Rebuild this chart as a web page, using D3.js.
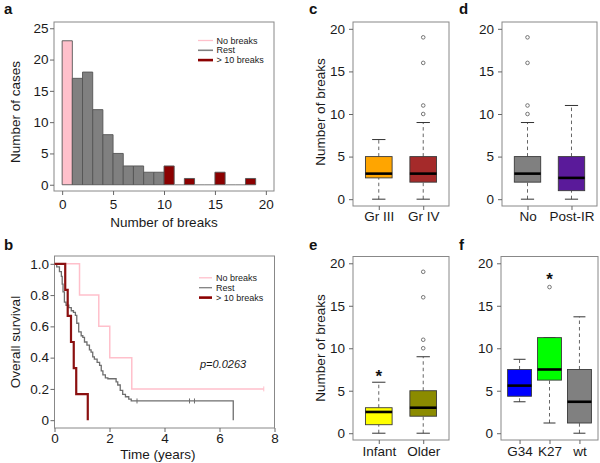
<!DOCTYPE html>
<html><head><meta charset="utf-8">
<script src="https://cdn.jsdelivr.net/npm/d3@7"></script>
<style>
body{margin:0;background:#fff;}
svg, svg text{font-family:"Liberation Sans",Arial,Helvetica,sans-serif;}
</style></head>
<body><svg id="c" width="600" height="463"></svg>
<script>
// ---------- DATA ----------
const histBinStarts = [0,1,2,3,4,5,6,7,8,9,10,11,12,13,14,15,16,17,18];
const histCounts    = [23,17,18,12,8,5,3,3,2,2,3,0,1,0,0,2,0,0,1];
const histTicksX = [0,5,10,15,20];
const histTicksY = [0,5,10,15,20,25];
const groupNames = ["No breaks","Rest","> 10 breaks"];
const groupColors = ["#ffc0cb","#808080","#8b0000"];

const kmNoTimes = [0.91,1.61,2.01,2.81,7.61];
const kmNoSurv  = [0.8,0.6,0.4,0.2,0.2];
const kmNoCensor = [7.61];
const kmRestTimes = [0.08,0.18,0.25,0.28,0.31,0.36,0.42,0.52,0.61,0.69,0.76,0.81,0.88,0.97,1.03,1.09,1.18,1.27,1.33,1.39,1.45,1.55,1.64,1.70,1.76,1.85,1.94,2.24,2.30,2.39,2.48,2.58,2.70,2.79,6.50];
const kmRestSurv  = [0.98,0.95,0.92,0.87,0.82,0.755,0.735,0.72,0.70,0.69,0.67,0.62,0.565,0.54,0.53,0.50,0.48,0.45,0.435,0.405,0.39,0.37,0.35,0.315,0.29,0.27,0.265,0.245,0.225,0.19,0.165,0.15,0.135,0.123,0];
const kmRestCensor = [3.0,4.91,5.09];
const kmHighTimes = [0.39,0.48,0.60,0.70,0.79,1.21];
const kmHighSurv  = [0.833,0.667,0.5,0.333,0.167,0];
const kmTicksX = [0,2,4,6,8];
const kmTicksY = [0,0.2,0.4,0.6,0.8,1.0];
const pValueText = "p=0.0263";

const boxTicksY = [0,5,10,15,20];
// stats: [whiskerLow, q1, median, q3, whiskerHigh]
const gradeLabels = ["Gr III","Gr IV"];
const gradeStats = [[0,2.5,3,5,7],[0,2,3,5,9]];
const gradeOutliers = [[],[10,11,16,19]];
const gradeColors = ["#ffa500","#a52a2a"];

const irLabels = ["No","Post-IR"];
const irStats = [[0,2,3,5,9],[0,1,2.5,5,11]];
const irOutliers = [[10,11,16,19],[]];
const irColors = ["#808080","#5a1a9a"];

const ageLabels = ["Infant","Older"];
const ageStats = [[0,1,2.5,3,6],[0,2,3,5,9]];
const ageOutliers = [[],[10,11,16,19]];
const ageColors = ["#ffff00","#8b8b00"];
const ageStar = [7.45, null];

const mutLabels = ["G34","K27","wt"];
const mutStats = [[3.7,4.35,5.6,7.5,8.7],[1.2,6.25,7.5,11.25,11.25],[0,1.2,3.7,7.5,13.7]];
const mutOutliers = [[],[17.2],[]];
const mutColors = ["#0000ff","#00ff00","#808080"];
const mutStar = [null, 18.8, null];

// ---------- DRAW ----------
const FONT = '"Liberation Sans",Arial,Helvetica,sans-serif';
const svg = d3.select("#c");
const FRAME = "#888", TICKC = "#666", TXT = "#1a1a1a";
const TF = 13.5, LF = 13.5;

function frame(x0,y0,x1,y1){
  svg.append("rect").attr("x",x0).attr("y",y0).attr("width",x1-x0).attr("height",y1-y0)
    .attr("fill","none").attr("stroke",FRAME).attr("stroke-width",1);
}
function styleAxis(g){
  g.attr("font-family",FONT).attr("font-size",TF);
  g.select(".domain").remove();
  g.selectAll(".tick line").attr("stroke",TICKC);
  g.selectAll(".tick text").attr("fill",TXT).style("font-size",TF+"px").style("font-family",FONT);
}
function letter(t,x,y){
  svg.append("text").attr("x",x).attr("y",y).text(t).style("font-size","15px").style("font-weight","bold").attr("fill","#111");
}
function ytitle(t,x,y){
  svg.append("text").attr("transform",`translate(${x},${y}) rotate(-90)`).attr("text-anchor","middle")
    .style("font-size",LF+"px").attr("fill",TXT).text(t);
}
function xtitle(t,x,y){
  svg.append("text").attr("x",x).attr("y",y).attr("text-anchor","middle").style("font-size",LF+"px").attr("fill",TXT).text(t);
}
function legend(x0,x1,tx,ys,widths){
  groupNames.forEach((n,i)=>{
    svg.append("line").attr("x1",x0).attr("x2",x1).attr("y1",ys[i]).attr("y2",ys[i])
      .attr("stroke",groupColors[i]).attr("stroke-width",widths[i]);
    svg.append("text").attr("x",tx).attr("y",ys[i]).attr("dy","0.35em").style("font-size","9px").attr("fill",TXT).text(n);
  });
}

// Panel a: histogram
(function(){
  const X0=54,X1=274,Y0=22,Y1=191;
  const x = d3.scaleLinear().domain([-0.8,20.8]).range([X0,X1]);
  const y = d3.scaleLinear().domain([-1,26]).range([Y1,Y0]);
  frame(X0,Y0,X1,Y1);
  const col = s => s===0 ? groupColors[0] : (s>=10 ? groupColors[2] : groupColors[1]);
  svg.append("g").selectAll("path").data(histBinStarts).join("path")
    .attr("d",(s,i)=>`M${x(s)},${y(0)}L${x(s)},${y(histCounts[i])}L${x(s+1)},${y(histCounts[i])}L${x(s+1)},${y(0)}Z`)
    .attr("fill",s=>col(s)).attr("stroke",(s,i)=>histCounts[i]===0?"#999":"#555").attr("stroke-width",0.9);
  const ax = svg.append("g").attr("transform",`translate(0,${Y1})`)
    .call(d3.axisBottom(x).tickValues(histTicksX).tickSize(4).tickPadding(4));
  styleAxis(ax);
  const ay = svg.append("g").attr("transform",`translate(${X0},0)`)
    .call(d3.axisLeft(y).tickValues(histTicksY).tickSize(4).tickPadding(1.5));
  styleAxis(ay);
  ytitle("Number of cases",20,112);
  xtitle("Number of breaks",164,227);
  legend(198,213,216.5,[40.5,50.3,60.1],[1.3,1.6,2.6]);
  letter("a",4,14);
})();

// Panel b: Kaplan-Meier
(function(){
  const X0=54.5,X1=274.5,Y0=256,Y1=428;
  const x = d3.scaleLinear().domain([0,8]).range([X0,X1]);
  const y = d3.scaleLinear().domain([-0.05,1.05]).range([Y1,Y0]);
  frame(X0,Y0,X1,Y1);
  const line = d3.line().x(d=>x(d[0])).y(d=>y(d[1])).curve(d3.curveStepAfter);
  function km(times,surv,color,w,censor){
    const pts = [[0,1]].concat(times.map((t,i)=>[t,surv[i]]));
    svg.append("path").attr("d",line(pts)).attr("fill","none").attr("stroke",color).attr("stroke-width",w);
    (censor||[]).forEach(t=>{
      let s=1; times.forEach((tt,i)=>{ if(tt<=t) s=surv[i]; });
      svg.append("line").attr("x1",x(t)).attr("x2",x(t)).attr("y1",y(s)-2.5).attr("y2",y(s)+2.5)
        .attr("stroke",color).attr("stroke-width",1);
    });
  }
  km(kmNoTimes,kmNoSurv,groupColors[0],1.5,kmNoCensor);
  km(kmRestTimes,kmRestSurv,"#6e6e6e",1.3,kmRestCensor);
  km(kmHighTimes,kmHighSurv,"#8b1010",2.2,[]);
  const ax = svg.append("g").attr("transform",`translate(0,${Y1})`)
    .call(d3.axisBottom(x).tickValues(kmTicksX).tickSize(4).tickPadding(1));
  styleAxis(ax);
  const ay = svg.append("g").attr("transform",`translate(${X0},0)`)
    .call(d3.axisLeft(y).tickValues(kmTicksY).tickSize(4).tickPadding(1.5).tickFormat(d=>d===0?"0":d.toFixed(1)));
  styleAxis(ay);
  ytitle("Overall survival",20,342);
  xtitle("Time (years)",158,459);
  legend(199,212,216,[277.8,287.7,297.6],[1.3,1.3,2.6]);
  svg.append("text").attr("x",200).attr("y",368).style("font-size","11px").style("font-style","italic").attr("fill",TXT).text(pValueText);
  letter("b",4,250);
})();

// Box plots
function boxplot(X0,X1,Y0,Y1,labels,stats,outliers,colors,bw,stars,labelBase){
  const n = labels.length;
  const x = d3.scaleLinear().domain([0.5-0.04*n, n+0.5+0.04*n]).range([X0,X1]);
  const y = d3.scaleLinear().domain([-0.8,20.8]).range([Y1,Y0]);
  const g = svg.append("g");
  const unit = x(1)-x(0);
  const hw = bw*unit/2;
  labels.forEach((lab,i)=>{
    const cx = x(i+1), st = stats[i];
    g.append("line").attr("x1",cx).attr("x2",cx).attr("y1",y(st[0])).attr("y2",y(st[1]))
      .attr("stroke","#666").attr("stroke-dasharray","3.5,3").attr("stroke-width",1);
    g.append("line").attr("x1",cx).attr("x2",cx).attr("y1",y(st[3])).attr("y2",y(st[4]))
      .attr("stroke","#666").attr("stroke-dasharray","3.5,3").attr("stroke-width",1);
    [st[0],st[4]].forEach(v=>{
      g.append("line").attr("x1",cx-hw/2).attr("x2",cx+hw/2).attr("y1",y(v)).attr("y2",y(v))
        .attr("stroke","#333").attr("stroke-width",1);
    });
    g.append("rect").attr("x",cx-hw).attr("width",2*hw).attr("y",y(st[3])).attr("height",y(st[1])-y(st[3]))
      .attr("fill",colors[i]).attr("stroke","#3a3a3a").attr("stroke-width",0.9);
    g.append("line").attr("x1",cx-hw).attr("x2",cx+hw).attr("y1",y(st[2])).attr("y2",y(st[2]))
      .attr("stroke","#000").attr("stroke-width",2.6);
    outliers[i].forEach(v=>{
      g.append("circle").attr("cx",cx).attr("cy",y(v)).attr("r",1.8).attr("fill","none").attr("stroke","#666").attr("stroke-width",0.9);
    });
    if(stars && stars[i]!=null){
      g.append("text").attr("x",cx).attr("y",y(stars[i])).attr("dy","0.7em").attr("text-anchor","middle")
        .style("font-size","17px").style("font-weight","bold").attr("fill","#111").text("*");
    }
  });
  frame(X0,Y0,X1,Y1);
  const ax = svg.append("g").attr("transform",`translate(0,${Y1})`)
    .call(d3.axisBottom(x).tickValues(d3.range(1,n+1)).tickSize(4).tickPadding(labelBase).tickFormat((d,i)=>labels[i]));
  styleAxis(ax);
  const ay = svg.append("g").attr("transform",`translate(${X0},0)`)
    .call(d3.axisLeft(y).tickValues(boxTicksY).tickSize(4).tickPadding(4));
  styleAxis(ay);
}
boxplot(353,449,22,206,gradeLabels,gradeStats,gradeOutliers,gradeColors,0.6,null,1);
boxplot(502,597,22,206,irLabels,irStats,irOutliers,irColors,0.6,null,1);
boxplot(353,449,256.5,440,ageLabels,ageStats,ageOutliers,ageColors,0.6,ageStar,2);
boxplot(501,598,256.5,440,mutLabels,mutStats,mutOutliers,mutColors,0.8,mutStar,2);
ytitle("Number of breaks",325,112);
ytitle("Number of breaks",325,348);
letter("c",309,14);
letter("d",459,14);
letter("e",309,250);
letter("f",459,250);
</script></body></html>
